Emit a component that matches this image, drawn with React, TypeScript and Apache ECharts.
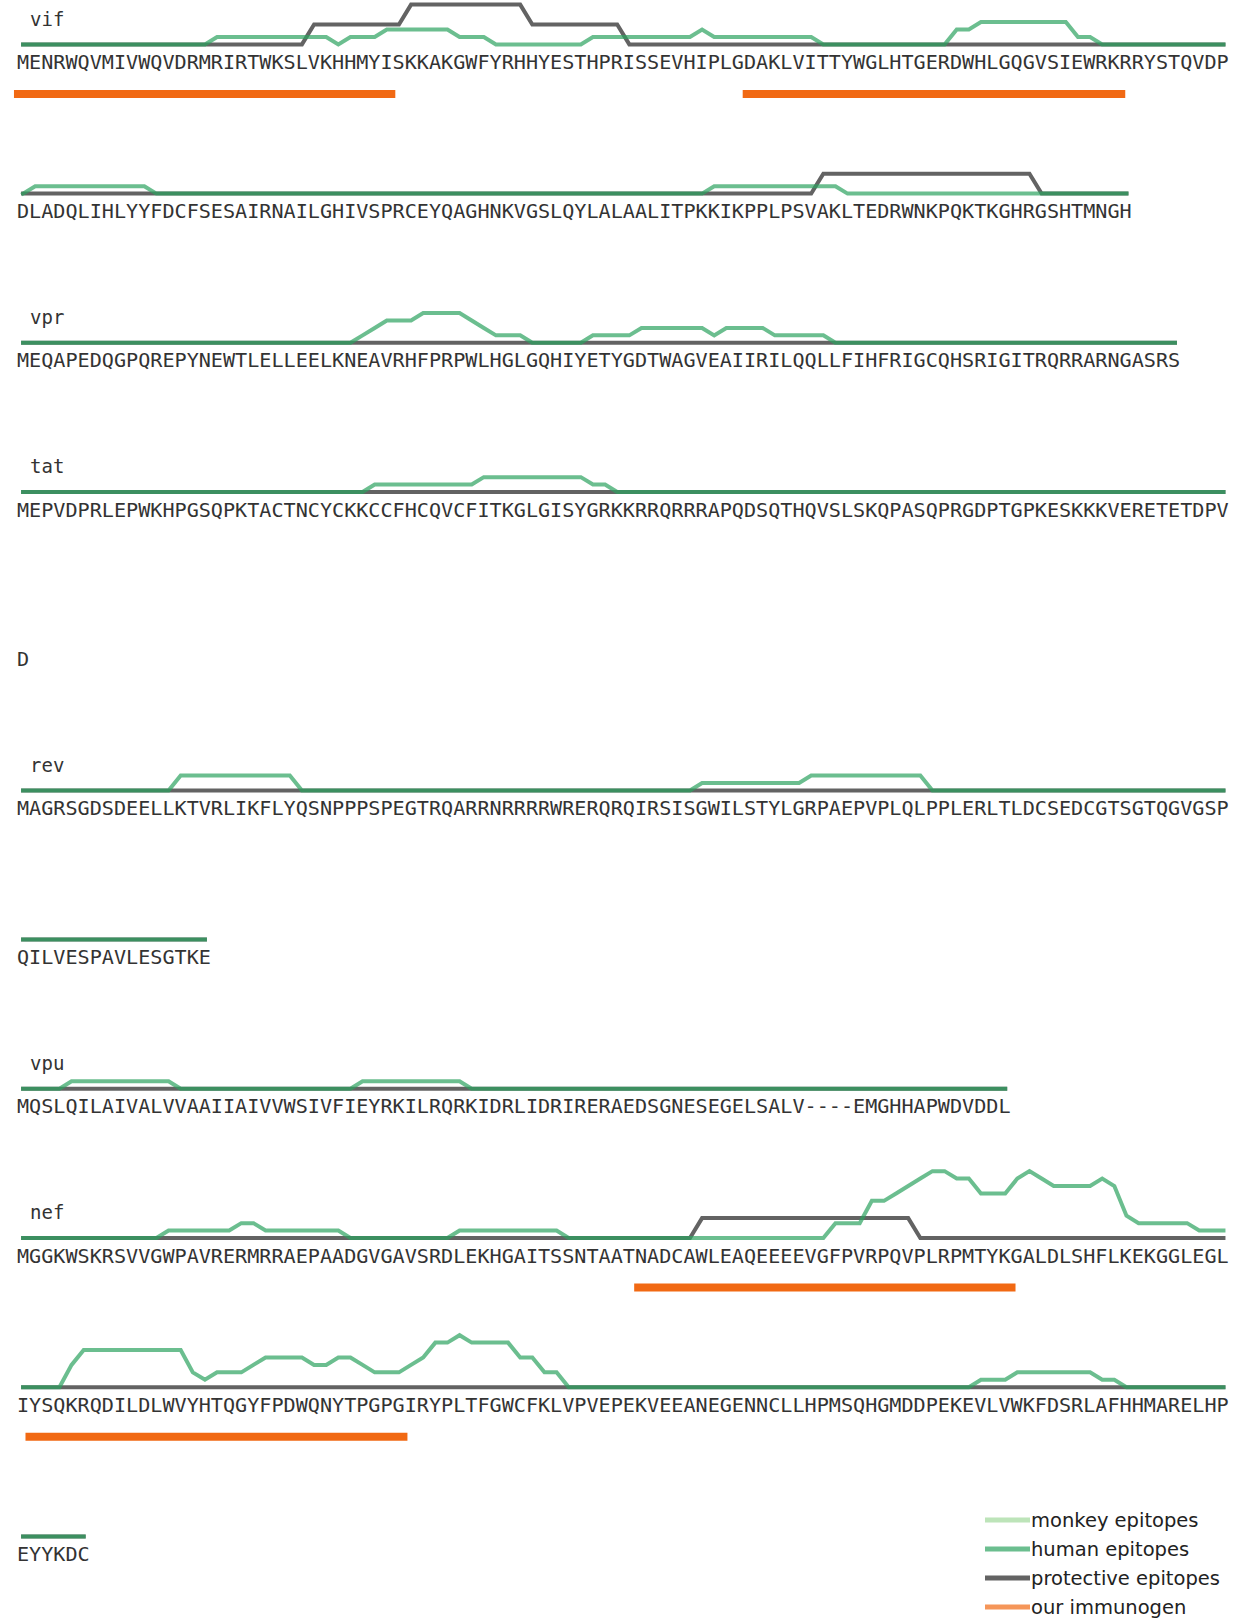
import React, { useEffect, useRef } from "react";
import * as echarts from "echarts";

// ---------------- DATA ----------------
const proteinNames = ["vif", "vpr", "tat", "rev", "vpu", "nef"];

const vifSeq =
  "MENRWQVMIVWQVDRMRIRTWKSLVKHHMYISKKAKGWFYRHHYESTHPRISSEVHIPLGDAKLVITTYWGLHTGERDWHLGQGVSIEWRKRRYSTQVDP" +
  "DLADQLIHLYYFDCFSESAIRNAILGHIVSPRCEYQAGHNKVGSLQYLALAALITPKKIKPPLPSVAKLTEDRWNKPQKTKGHRGSHTMNGH";
const vprSeq =
  "MEQAPEDQGPQREPYNEWTLELLEELKNEAVRHFPRPWLHGLGQHIYETYGDTWAGVEAIIRILQQLLFIHFRIGCQHSRIGITRQRRARNGASRS";
const tatSeq =
  "MEPVDPRLEPWKHPGSQPKTACTNCYCKKCCFHCQVCFITKGLGISYGRKKRRQRRRAPQDSQTHQVSLSKQPASQPRGDPTGPKESKKKVERETETDPV" +
  "D";
const revSeq =
  "MAGRSGDSDEELLKTVRLIKFLYQSNPPPSPEGTRQARRNRRRRWRERQRQIRSISGWILSTYLGRPAEPVPLQLPPLERLTLDCSEDCGTSGTQGVGSP" +
  "QILVESPAVLESGTKE";
const vpuSeq =
  "MQSLQILAIVALVVAAIIAIVVWSIVFIEYRKILRQRKIDRLIDRIRERAEDSGNESEGELSALV----EMGHHAPWDVDDL";
const nefSeq =
  "MGGKWSKRSVVGWPAVRERMRRAEPAADGVGAVSRDLEKHGAITSSNTAATNADCAWLEAQEEEEVGFPVRPQVPLRPMTYKGALDLSHFLKEKGGLEGL" +
  "IYSQKRQDILDLWVYHTQGYFPDWQNYTPGPGIRYPLTFGWCFKLVPVEPEKVEEANEGENNCLLHPMSQHGMDDPEKEVLVWKFDSRLAFHHMARELHP" +
  "EYYKDC";

// human epitope coverage per residue
const vifHuman = [
  0, 0, 0, 0, 0, 0, 0, 0, 0, 0,
  0, 0, 0, 0, 0, 0, 1, 1, 1, 1,
  1, 1, 1, 1, 1, 1, 0, 1, 1, 1,
  2, 2, 2, 2, 2, 2, 1, 1, 1, 0,
  0, 0, 0, 0, 0, 0, 0, 1, 1, 1,
  1, 1, 1, 1, 1, 1, 2, 1, 1, 1,
  1, 1, 1, 1, 1, 1, 0, 0, 0, 0,
  0, 0, 0, 0, 0, 0, 0, 2, 2, 3,
  3, 3, 3, 3, 3, 3, 3, 1, 1, 0,
  0, 0, 0, 0, 0, 0, 0, 0, 0, 0,
  0, 1, 1, 1, 1, 1, 1, 1, 1, 1,
  1, 0, 0, 0, 0, 0, 0, 0, 0, 0,
  0, 0, 0, 0, 0, 0, 0, 0, 0, 0,
  0, 0, 0, 0, 0, 0, 0, 0, 0, 0,
  0, 0, 0, 0, 0, 0, 0, 0, 0, 0,
  0, 0, 0, 0, 0, 0, 0, 1, 1, 1,
  1, 1, 1, 1, 1, 1, 1, 1, 0, 0,
  0, 0, 0, 0, 0, 0, 0, 0, 0, 0,
  0, 0, 0, 0, 0, 0, 0, 0, 0, 0,
  0, 0,
];
const vprHuman = [
  0, 0, 0, 0, 0, 0, 0, 0, 0, 0,
  0, 0, 0, 0, 0, 0, 0, 0, 0, 0,
  0, 0, 0, 0, 0, 0, 0, 0, 1, 2,
  3, 3, 3, 4, 4, 4, 4, 3, 2, 1,
  1, 1, 0, 0, 0, 0, 0, 1, 1, 1,
  1, 2, 2, 2, 2, 2, 2, 1, 2, 2,
  2, 2, 1, 1, 1, 1, 1, 0, 0, 0,
  0, 0, 0, 0, 0, 0, 0, 0, 0, 0,
  0, 0, 0, 0, 0, 0, 0, 0, 0, 0,
  0, 0, 0, 0, 0, 0,
];
const tatHuman = [
  0, 0, 0, 0, 0, 0, 0, 0, 0, 0,
  0, 0, 0, 0, 0, 0, 0, 0, 0, 0,
  0, 0, 0, 0, 0, 0, 0, 0, 0, 1,
  1, 1, 1, 1, 1, 1, 1, 1, 2, 2,
  2, 2, 2, 2, 2, 2, 2, 1, 1, 0,
  0, 0, 0, 0, 0, 0, 0, 0, 0, 0,
  0, 0, 0, 0, 0, 0, 0, 0, 0, 0,
  0, 0, 0, 0, 0, 0, 0, 0, 0, 0,
  0, 0, 0, 0, 0, 0, 0, 0, 0, 0,
  0, 0, 0, 0, 0, 0, 0, 0, 0, 0,
  0,
];
const revHuman = [
  0, 0, 0, 0, 0, 0, 0, 0, 0, 0,
  0, 0, 0, 2, 2, 2, 2, 2, 2, 2,
  2, 2, 2, 0, 0, 0, 0, 0, 0, 0,
  0, 0, 0, 0, 0, 0, 0, 0, 0, 0,
  0, 0, 0, 0, 0, 0, 0, 0, 0, 0,
  0, 0, 0, 0, 0, 0, 1, 1, 1, 1,
  1, 1, 1, 1, 1, 2, 2, 2, 2, 2,
  2, 2, 2, 2, 2, 0, 0, 0, 0, 0,
  0, 0, 0, 0, 0, 0, 0, 0, 0, 0,
  0, 0, 0, 0, 0, 0, 0, 0, 0, 0,
  0, 0, 0, 0, 0, 0, 0, 0, 0, 0,
  0, 0, 0, 0, 0, 0,
];
const vpuHuman = [
  0, 0, 0, 0, 1, 1, 1, 1, 1, 1,
  1, 1, 1, 0, 0, 0, 0, 0, 0, 0,
  0, 0, 0, 0, 0, 0, 0, 0, 1, 1,
  1, 1, 1, 1, 1, 1, 1, 0, 0, 0,
  0, 0, 0, 0, 0, 0, 0, 0, 0, 0,
  0, 0, 0, 0, 0, 0, 0, 0, 0, 0,
  0, 0, 0, 0, 0, 0, 0, 0, 0, 0,
  0, 0, 0, 0, 0, 0, 0, 0, 0, 0,
  0, 0,
];
const nefHuman = [
  0, 0, 0, 0, 0, 0, 0, 0, 0, 0,
  0, 0, 1, 1, 1, 1, 1, 1, 2, 2,
  1, 1, 1, 1, 1, 1, 1, 0, 0, 0,
  0, 0, 0, 0, 0, 0, 1, 1, 1, 1,
  1, 1, 1, 1, 1, 0, 0, 0, 0, 0,
  0, 0, 0, 0, 0, 0, 0, 0, 0, 0,
  0, 0, 0, 0, 0, 0, 0, 2, 2, 2,
  5, 5, 6, 7, 8, 9, 9, 8, 8, 6,
  6, 6, 8, 9, 8, 7, 7, 7, 7, 8,
  7, 3, 2, 2, 2, 2, 2, 1, 1, 1,
  0, 0, 0, 0, 3, 5, 5, 5, 5, 5,
  5, 5, 5, 5, 2, 1, 2, 2, 2, 3,
  4, 4, 4, 4, 3, 3, 4, 4, 3, 2,
  2, 2, 3, 4, 6, 6, 7, 6, 6, 6,
  6, 4, 4, 2, 2, 0, 0, 0, 0, 0,
  0, 0, 0, 0, 0, 0, 0, 0, 0, 0,
  0, 0, 0, 0, 0, 0, 0, 0, 0, 0,
  0, 0, 0, 0, 0, 0, 0, 0, 0, 1,
  1, 1, 2, 2, 2, 2, 2, 2, 2, 1,
  1, 0, 0, 0, 0, 0, 0, 0, 0, 0,
  0, 0, 0, 0, 0, 0,
];

// protective epitope coverage per residue (empty list = none)
const vifProtective = [
  0, 0, 0, 0, 0, 0, 0, 0, 0, 0,
  0, 0, 0, 0, 0, 0, 0, 0, 0, 0,
  0, 0, 0, 0, 1, 1, 1, 1, 1, 1,
  1, 1, 2, 2, 2, 2, 2, 2, 2, 2,
  2, 2, 1, 1, 1, 1, 1, 1, 1, 1,
  0, 0, 0, 0, 0, 0, 0, 0, 0, 0,
  0, 0, 0, 0, 0, 0, 0, 0, 0, 0,
  0, 0, 0, 0, 0, 0, 0, 0, 0, 0,
  0, 0, 0, 0, 0, 0, 0, 0, 0, 0,
  0, 0, 0, 0, 0, 0, 0, 0, 0, 0,
  0, 0, 0, 0, 0, 0, 0, 0, 0, 0,
  0, 0, 0, 0, 0, 0, 0, 0, 0, 0,
  0, 0, 0, 0, 0, 0, 0, 0, 0, 0,
  0, 0, 0, 0, 0, 0, 0, 0, 0, 0,
  0, 0, 0, 0, 0, 0, 0, 0, 0, 0,
  0, 0, 0, 0, 0, 0, 0, 0, 0, 0,
  0, 0, 0, 0, 0, 0, 1, 1, 1, 1,
  1, 1, 1, 1, 1, 1, 1, 1, 1, 1,
  1, 1, 1, 1, 0, 0, 0, 0, 0, 0,
  0, 0,
];
const vprProtective: number[] = [];
const tatProtective: number[] = [];
const revProtective: number[] = [];
const vpuProtective: number[] = [];
const nefProtective = [
  0, 0, 0, 0, 0, 0, 0, 0, 0, 0,
  0, 0, 0, 0, 0, 0, 0, 0, 0, 0,
  0, 0, 0, 0, 0, 0, 0, 0, 0, 0,
  0, 0, 0, 0, 0, 0, 0, 0, 0, 0,
  0, 0, 0, 0, 0, 0, 0, 0, 0, 0,
  0, 0, 0, 0, 0, 0, 1, 1, 1, 1,
  1, 1, 1, 1, 1, 1, 1, 1, 1, 1,
  1, 1, 1, 1, 0, 0, 0, 0, 0, 0,
];

// monkey epitope coverage per residue (none visible)
const vifMonkey: number[] = [];
const vprMonkey: number[] = [];
const tatMonkey: number[] = [];
const revMonkey: number[] = [];
const vpuMonkey: number[] = [];
const nefMonkey: number[] = [];

// immunogen extents, in residue-index units
const vifImmunogen = [
  [-0.75, 30.7],
  [59.35, 90.9],
];
const nefImmunogen = [
  [50.4, 81.85],
  [100.2, 131.7],
];

const legendNames = ["monkey epitopes", "human epitopes", "protective epitopes", "our immunogen"];

// ---------------- STYLE / LAYOUT ----------------
const C_MONKEY = "#a1d99b";
const C_HUMAN = "#2ca25f";
const C_PROT = "#636363";
const C_IMM = "#f16913";

const MONO = '"DejaVu Sans Mono", monospace';
const SANS = '"DejaVu Sans", Verdana, sans-serif';
const FONT = 20.14;
const W = FONT * 0.60205; // advance of one residue
const X0 = 17;
const ROW0 = 44.4;
const PITCH = 149.2;
const PER_ROW = 100;
const G_UNIT = 7.43;
const P_UNIT = 19.9;
const EPI_H_MAX = 80;
const BAR_DY = 49.6;
const BAR_H = 10;

const proteins = [
  { name: "vif", seq: vifSeq, human: vifHuman, prot: vifProtective, monkey: vifMonkey, imm: vifImmunogen },
  { name: "vpr", seq: vprSeq, human: vprHuman, prot: vprProtective, monkey: vprMonkey, imm: [] as number[][] },
  { name: "tat", seq: tatSeq, human: tatHuman, prot: tatProtective, monkey: tatMonkey, imm: [] as number[][] },
  { name: "rev", seq: revSeq, human: revHuman, prot: revProtective, monkey: revMonkey, imm: [] as number[][] },
  { name: "vpu", seq: vpuSeq, human: vpuHuman, prot: vpuProtective, monkey: vpuMonkey, imm: [] as number[][] },
  { name: "nef", seq: nefSeq, human: nefHuman, prot: nefProtective, monkey: nefMonkey, imm: nefImmunogen },
];

function buildOption() {
  const grid: any[] = [];
  const xAxis: any[] = [];
  const yAxis: any[] = [];
  const series: any[] = [];
  const graphic: any[] = [];

  // one grid + x axis + y axis; returns axis index
  const addPanel = (top: number, height: number, yMax: number) => {
    const g = grid.length;
    grid.push({ left: X0, top, width: PER_ROW * W, height });
    xAxis.push({ type: "value", gridIndex: g, min: -0.5, max: PER_ROW - 0.5, show: false });
    yAxis.push({ type: "value", gridIndex: g, min: 0, max: yMax, show: false, alignTicks: false });
    return g;
  };

  let r = 0;
  proteins.forEach((p, pi) => {
    const n = p.seq.length;
    for (let s = 0; s < n; s += PER_ROW) {
      const e = Math.min(n, s + PER_ROW);
      const yb = ROW0 + r * PITCH;
      const h = Math.min(EPI_H_MAX, yb - 1);
      const aH = addPanel(yb - h, h, h / G_UNIT);
      const aP = addPanel(yb - h, h, h / P_UNIT);
      const aB = addPanel(yb + BAR_DY - BAR_H / 2, BAR_H, 1);

      const idx: number[] = [];
      for (let i = s; i < e; i++) idx.push(i);

      series.push({
        name: "monkey epitopes",
        type: "line",
        xAxisIndex: aH,
        yAxisIndex: aH,
        data: p.monkey.slice(s, e).map((v, j) => [j, v]),
        symbol: "none",
        silent: true,
        clip: false,
        z: 1,
        itemStyle: { color: C_MONKEY, opacity: 0.7 },
        lineStyle: { color: C_MONKEY, width: 4, opacity: 0.7, join: "miter", cap: "square" },
      });
      series.push({
        name: "protective epitopes",
        type: "line",
        xAxisIndex: aP,
        yAxisIndex: aP,
        data: idx.map((i) => [i - s, p.prot[i] ?? 0]),
        symbol: "none",
        silent: true,
        clip: false,
        z: 2,
        itemStyle: { color: C_PROT },
        lineStyle: { color: C_PROT, width: 4, join: "miter", cap: "square" },
      });
      series.push({
        name: "human epitopes",
        type: "line",
        xAxisIndex: aH,
        yAxisIndex: aH,
        data: idx.map((i) => [i - s, p.human[i] ?? 0]),
        symbol: "none",
        silent: true,
        clip: false,
        z: 3,
        itemStyle: { color: C_HUMAN, opacity: 0.7 },
        lineStyle: { color: C_HUMAN, width: 4, opacity: 0.7, join: "miter", cap: "square" },
      });
      p.imm.forEach((b) => {
        const mid = (b[0] + b[1]) / 2;
        if (mid >= s && mid < e) {
          series.push({
            name: "our immunogen",
            type: "line",
            xAxisIndex: aB,
            yAxisIndex: aB,
            data: [
              [b[0] - s, 0.5],
              [b[1] - s, 0.5],
            ],
            symbol: "none",
            silent: true,
            clip: false,
            z: 2,
            itemStyle: { color: C_IMM, opacity: 0.7 },
            lineStyle: { color: C_IMM, width: 8 },
          });
        }
      });

      graphic.push({
        type: "text",
        x: X0,
        y: yb + 17.5,
        silent: true,
        style: {
          text: p.seq.slice(s, e),
          fontFamily: MONO,
          fontSize: FONT,
          fill: "#333333",
          verticalAlign: "middle",
          align: "left",
        },
      });
      if (s === 0) {
        graphic.push({
          type: "text",
          x: 30,
          y: yb - 25.8,
          silent: true,
          style: {
            text: proteinNames[pi],
            fontFamily: MONO,
            fontSize: 19,
            fill: "#333333",
            verticalAlign: "middle",
            align: "left",
          },
        });
      }
      r++;
    }
  });

  const legendColors = [C_MONKEY, C_HUMAN, C_PROT, C_IMM];
  const legendOpac = [0.7, 0.7, 1, 0.7];

  return {
    animation: false,
    backgroundColor: "#ffffff",
    grid,
    xAxis,
    yAxis,
    series,
    graphic,
    legend: {
      type: "plain",
      orient: "vertical",
      left: 985,
      top: 1510,
      height: 400,
      padding: 0,
      itemWidth: 45,
      itemHeight: 5,
      itemGap: 9.0,
      icon: "rect",
      selectedMode: false,
      textStyle: { fontFamily: SANS, fontSize: 19.5, lineHeight: 19, color: "#222", padding: [0, 0, 0, -4] },
      data: legendNames.map((nm, k) => ({
        name: nm,
        icon: "rect",
        itemStyle: { color: legendColors[k], opacity: legendOpac[k], borderWidth: 0 },
      })),
    },
  };
}

export default function App() {
  const ref = useRef<HTMLDivElement>(null);
  useEffect(() => {
    if (!ref.current) return;
    const chart = echarts.init(ref.current, undefined, { renderer: "svg" });
    chart.setOption(buildOption() as any);
    return () => chart.dispose();
  }, []);
  return (
    <div
      ref={ref}
      style={{ position: "absolute", left: 0, top: 0, width: 1240, height: 1619, background: "#fff" }}
    />
  );
}
